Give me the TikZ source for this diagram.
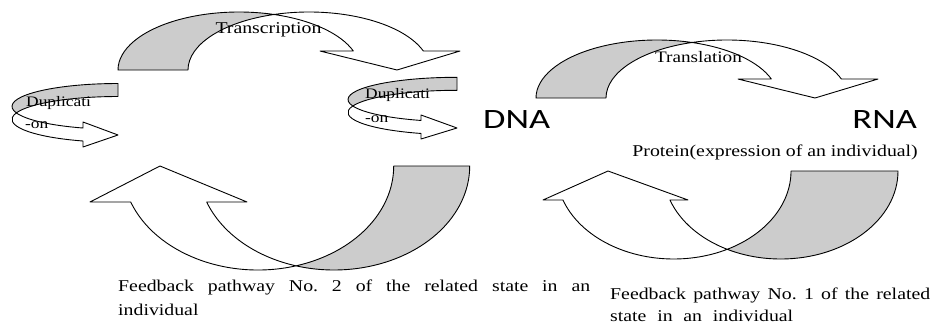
\documentclass[tikz,border=0pt]{standalone}
\usepackage{fontspec}
\setmainfont{Liberation Serif}[FakeStretch=1.2]
\newfontfamily\dnafont{Carlito}[FakeStretch=1.3]
\definecolor{shade}{RGB}{204,204,204}
\tikzset{
  arrowline/.style={draw=black, line width=0.9pt, line join=round},
  lbl/.style={inner sep=0pt, font=\fontsize{16.5}{19}\selectfont},
  duplbl/.style={inner sep=0pt, font=\fontsize{14.5}{17}\selectfont},
  biglbl/.style={inner sep=0pt, font=\dnafont\fontsize{28}{30}\selectfont},
}
% curved ribbon arrow: #1 x-radius, #2 y-radius, #3 thickness, #4 end angle,
% #5 inner barb x, #6 outer barb x, #7 tip x  (local frame, left ellipse centre at origin)
\newcommand{\ppcurve}[7]{%
  \pgfmathsetmacro{\ppR}{#1}%
  \pgfmathsetmacro{\ppH}{#2}%
  \pgfmathsetmacro{\ppT}{#3}%
  \pgfmathsetmacro{\ppE}{#4}%
  \pgfmathsetmacro{\ppI}{acos(\ppT/(2*\ppR))}%
  \pgfmathsetmacro{\ppJ}{180-\ppI}%
  \pgfmathsetmacro{\ppY}{\ppH*sin(\ppE)}%
  \pgfmathsetmacro{\ppX}{\ppR*cos(\ppE)}%
  \pgfmathsetmacro{\ppIy}{\ppH*sin(\ppI)}%
  \filldraw[arrowline, fill=white] (\ppT/2,\ppIy)
    arc[start angle=\ppJ, end angle=\ppE, x radius=\ppR, y radius=\ppH]
    -- (#6,\ppY) -- (#7,0) -- (#5,\ppY) -- (\ppX,\ppY)
    arc[start angle=\ppE, end angle=\ppI, x radius=\ppR, y radius=\ppH] -- cycle;
  \filldraw[arrowline, fill=shade] (-\ppR,0)
    arc[start angle=180, end angle=\ppI, x radius=\ppR, y radius=\ppH]
    arc[start angle=\ppJ, end angle=180, x radius=\ppR, y radius=\ppH] -- cycle;
}
\begin{document}
\begin{tikzpicture}[x=1pt,y=1pt]
\useasboundingbox (0,0) rectangle (936,325);
\fill[white] (0,0) rectangle (936,325);

% Transcription arrow
\begin{scope}[shift={(239,255)}]
  \ppcurve{121}{58}{70}{19.12}{81}{221}{158}
\end{scope}
% Translation arrow
\begin{scope}[shift={(657,227)}]
  \ppcurve{121}{58}{70}{19.12}{81}{221}{158}
\end{scope}
% Feedback arrow No. 2 (bottom left)
\begin{scope}[shift={(334,159)}, rotate=180]
  \ppcurve{135.7}{104}{76}{20.25}{87}{244}{174}
\end{scope}
% Feedback arrow No. 1 (bottom right)
\begin{scope}[shift={(780.7,154)}, rotate=180]
  \ppcurve{117.3}{88}{107}{19.24}{92.7}{237.7}{172.7}
\end{scope}
% Duplication arrows
\begin{scope}[cm={0,-1,-1,0,(118,218.6)}]
  \ppcurve{22.89}{106}{13}{19.28}{15.6}{40.6}{28.6}
\end{scope}
\begin{scope}[cm={0,-1,-1,0,(457,225.5)}]
  \ppcurve{22.2}{109}{13}{19.28}{15.5}{39.5}{28.5}
\end{scope}

% labels
\node[lbl, anchor=base] (transcription) at (268.5,291.7) {Transcription};
\node[lbl, anchor=base, font=\fontsize{16}{19}\selectfont] (translation) at (698.5,263) {Translation};
\node[duplbl, anchor=base west] (dupL1) at (26,219) {Duplicati};
\node[duplbl, anchor=base west] (dupL2) at (25,197) {-on};
\node[duplbl, anchor=base west] (dupR1) at (365,227) {Duplicati};
\node[duplbl, anchor=base west] (dupR2) at (365,203) {-on};
\node[biglbl, anchor=base west] (dna) at (483,197) {DNA};
\node[biglbl, anchor=base east] (rna) at (917,197) {RNA};
\node[lbl, anchor=base east] (protein) at (918,169) {Protein(expression of an individual)};
\node[lbl, anchor=base west] (fb2a) at (118,33.3) {\makebox[472pt][s]{Feedback pathway No.\ 2 of the related state in an}};
\node[lbl, anchor=base west] (fb2b) at (118,9.5) {individual};
\node[lbl, anchor=base west] (fb1a) at (610,26) {\makebox[320pt][s]{Feedback pathway No.\ 1 of the related}};
\node[lbl, anchor=base west] (fb1b) at (610,3.3) {\makebox[183pt][s]{state in an individual}};
\end{tikzpicture}
\end{document}
